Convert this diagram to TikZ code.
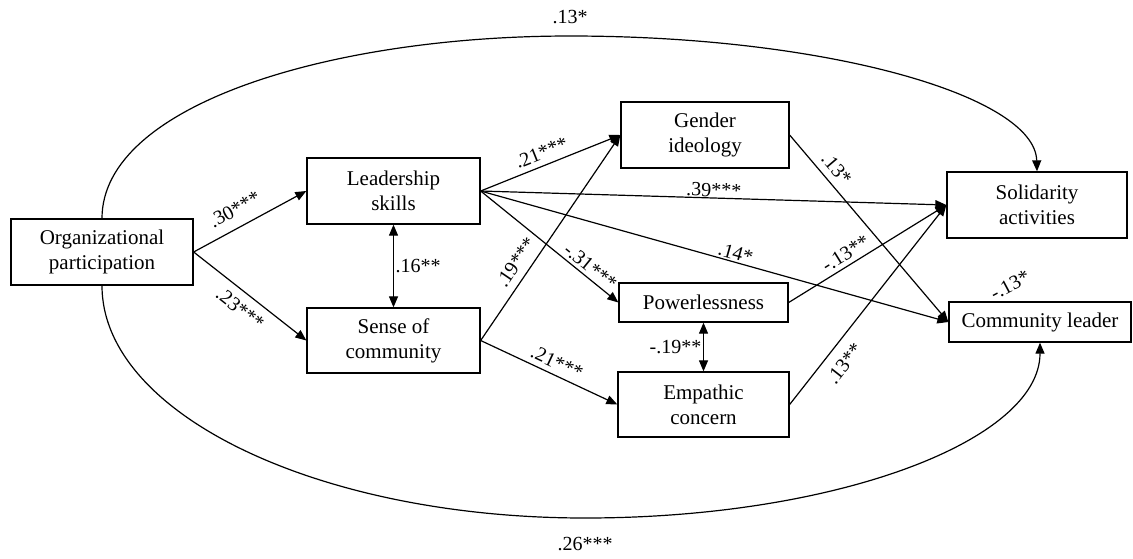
\documentclass[tikz,border=0pt]{standalone}
\usepackage{fontspec}
\setmainfont{Liberation Serif}
\usepackage{tikz}
\usetikzlibrary{arrows.meta}
\tikzstyle{var}=[draw,line width=1.3pt,align=center,inner sep=0pt,font=\fontsize{21}{25}\selectfont]
\tikzstyle{edge} = [draw,line width=1.2pt,-{Triangle[length=11pt,width=9pt]}]
\tikzstyle{twoway} = [draw,line width=1.2pt,{Triangle[length=11pt,width=9pt]}-{Triangle[length=11pt,width=9pt]}]
\tikzstyle{weight} = [font=\fontsize{20}{22}\selectfont,inner sep=1.5pt]

\begin{document}
\begin{tikzpicture}[x=1pt,y=-1pt]

    \useasboundingbox (0,0) rectangle (1133,558);

     \foreach \x/\y/\w/\h/\name/\txt in {102/252/182/66/org/{Organizational\\participation},
        393.5/191/173/66/lead/{Leadership\\skills}, 393.5/340.5/173/65/soc/{Sense of\\community},
        705/135/168/66/gen/{Gender\\ideology}, 703.5/302.5/169/39/pow/{Powerlessness},
        703.5/404.5/171/65/emp/{Empathic\\concern}, 1037/205/180/66/sol/{Solidarity\\activities},
        1040/322/182/40/cl/{Community leader}}
        \node[var, minimum width=\w pt, minimum height=\h pt] (\name) at (\x,\y) {\txt};


    \foreach \source/ \dest /\weight/\where/\off in {org/lead/{.30***}/0.44/9, lead/gen/{.21***}/0.47/4,
        soc/gen/{.19***}/0.34/6, lead/sol/{.39***}/0.5/-1, lead/pow/{-.31***}/0.75/1.5, lead/cl/{.14*}/0.54/0,
        soc/emp/{.21***}/0.52/3.5, gen/cl/{.13*}/0.23/5, pow/sol/{-.13**}/0.4/3}
        \path[edge] (\source.east) -- node[weight, sloped, above=\off pt, allow upside down, pos=\where] {\weight} (\dest.west);

    \foreach \source/ \dest /\weight/\where/\off in {org/soc/{.23***}/0.5/7, emp/sol/{.13**}/0.26/9}
        \path[edge] (\source.east) -- node[weight, sloped, below=\off pt, allow upside down, pos=\where] {\weight} (\dest.west);

    \path[twoway] (lead) -- node[weight, right] {.16**} (soc);
    \path[twoway] (pow) -- node[weight, left] {-.19**} (emp);

    % direct paths round the model
    \draw[edge] (org.north) .. controls (102,105) and (330,36) .. (570,36) node[weight, above=10pt] {.13*}
        .. controls (827,36) and (1035,96) .. (sol.north);
    \draw[edge] (org.south) .. controls (102,414) and (318,518) .. (585,518) node[weight, below=17pt] {.26***}
        .. controls (838,518) and (1040,440) .. (cl.south);

    \node[weight, rotate=28] (clnote) at (1010,285) {-.13*};

\end{tikzpicture}
\end{document}
